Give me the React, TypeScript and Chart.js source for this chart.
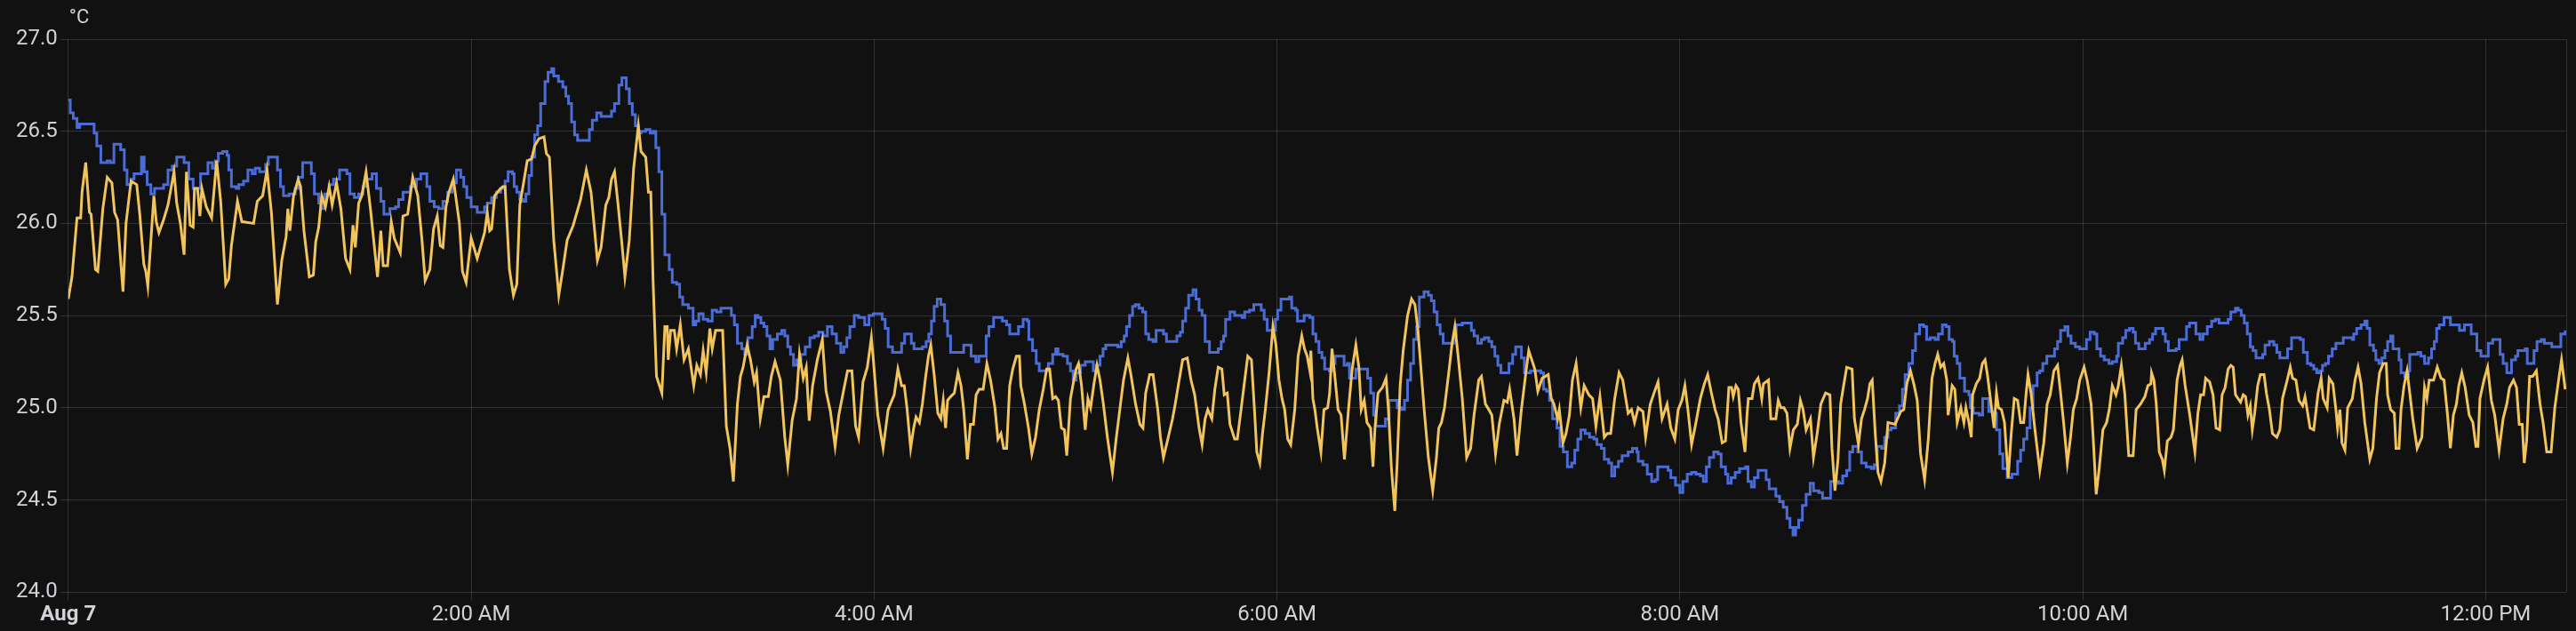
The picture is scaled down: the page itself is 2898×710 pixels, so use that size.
import { useEffect, useRef } from "react";
import { Chart, registerables } from "chart.js";

Chart.register(...registerables);

// time axis is minutes after midnight (Aug 7)
const tickMinutes: number[] = [0, 120, 240, 360, 480, 600, 720];
const tickLabels: string[] = ["Aug 7", "2:00 AM", "4:00 AM", "6:00 AM", "8:00 AM", "10:00 AM", "12:00 PM"];
const yTicks: number[] = [24.0, 24.5, 25.0, 25.5, 26.0, 26.5, 27.0];
const unitLabel = "°C";

// blue series: stepped sensor [minute, °C]
const blueSeries: [number, number][] = [
  [0, 26.67], [0.6, 26.6], [1.5, 26.57], [2.6, 26.52], [3.4, 26.54], [4.6, 26.54], [7.7, 26.49], [8.5, 26.42], [9.7, 26.33], [11.6, 26.34],
  [12.5, 26.33], [13.6, 26.43], [15.6, 26.4], [16.7, 26.29], [17.5, 26.21], [18.7, 26.24], [19.6, 26.27], [21.8, 26.36], [22.6, 26.28], [23.5, 26.21],
  [24.6, 26.16], [25.7, 26.19], [28.4, 26.21], [29.7, 26.29], [31.0, 26.31], [32.3, 26.36], [34.5, 26.33], [35.9, 26.24], [37.2, 26.19], [39.4, 26.27],
  [41.6, 26.33], [42.9, 26.3], [43.8, 26.34], [44.7, 26.38], [46.0, 26.39], [47.3, 26.37], [47.8, 26.29], [48.6, 26.2], [50.0, 26.19], [50.8, 26.21],
  [52.2, 26.23], [53.5, 26.29], [54.8, 26.27], [55.7, 26.3], [57.0, 26.28], [58.8, 26.32], [59.6, 26.36], [61.4, 26.36], [62.3, 26.29], [63.2, 26.2],
  [64.1, 26.15], [65.8, 26.16], [67.6, 26.19], [68.5, 26.25], [69.8, 26.33], [71.5, 26.33], [72.4, 26.27], [73.3, 26.16], [74.6, 26.11], [75.5, 26.08],
  [76.4, 26.16], [77.7, 26.21], [79.0, 26.24], [80.8, 26.29], [83.0, 26.27], [83.9, 26.16], [85.2, 26.14], [86.5, 26.16], [87.8, 26.2], [88.7, 26.24],
  [90.5, 26.27], [91.8, 26.19], [93.1, 26.12], [94.0, 26.05], [95.8, 26.08], [97.5, 26.09], [98.4, 26.13], [99.7, 26.17], [101.9, 26.2], [103.7, 26.24],
  [105.0, 26.27], [106.8, 26.2], [107.7, 26.12], [109.0, 26.09], [110.3, 26.08], [111.6, 26.12], [113.0, 26.17], [114.3, 26.22], [115.6, 26.29], [116.9, 26.25],
  [117.8, 26.2], [118.7, 26.14], [120.0, 26.09], [121.8, 26.06], [124.0, 26.09],
  [124.8, 26.11], [126.1, 26.14], [127.5, 26.17], [128.8, 26.19], [130.1, 26.23], [131.0, 26.28], [132.3, 26.27], [132.8, 26.2], [133.6, 26.17], [134.5, 26.13],
  [135.4, 26.12], [136.3, 26.16], [137.2, 26.26], [138.0, 26.36], [138.9, 26.48], [139.8, 26.53], [140.7, 26.65], [142.0, 26.77], [142.9, 26.82], [144.0, 26.84],
  [144.6, 26.8], [146.0, 26.77], [147.3, 26.74], [148.2, 26.69], [149.0, 26.65], [149.9, 26.55], [150.8, 26.48], [151.7, 26.45], [154.3, 26.45], [155.2, 26.51],
  [156.1, 26.56], [157.4, 26.6], [158.7, 26.58], [160.5, 26.58], [161.8, 26.61], [162.7, 26.65], [164.0, 26.75], [164.9, 26.79], [166.2, 26.73], [167.1, 26.65],
  [168.0, 26.59], [168.9, 26.53], [169.8, 26.49], [170.6, 26.5], [172.0, 26.51], [173.3, 26.49], [174.2, 26.5], [175.0, 26.41], [175.9, 26.28], [176.8, 26.05],
  [177.7, 25.83], [179.0, 25.75], [179.9, 25.68], [181.2, 25.67], [182.1, 25.6], [183.0, 25.56], [184.7, 25.54], [186.1, 25.45], [186.9, 25.47], [187.8, 25.51],
  [189.1, 25.48], [190.5, 25.47], [191.8, 25.53], [193.1, 25.52], [194.4, 25.54], [196.6, 25.54], [197.5, 25.5], [198.4, 25.45], [199.3, 25.35], [200.6, 25.32],
  [201.5, 25.29], [202.4, 25.38], [203.7, 25.44], [204.6, 25.5], [205.4, 25.49], [206.3, 25.46], [207.2, 25.44], [208.1, 25.39], [209.0, 25.32], [209.8, 25.37],
  [211.2, 25.4], [212.5, 25.42], [213.4, 25.39], [214.3, 25.33], [215.1, 25.29], [216.0, 25.23], [216.9, 25.26], [218.2, 25.29], [219.5, 25.33], [220.9, 25.38],
  [222.2, 25.39], [223.5, 25.41], [224.8, 25.39], [226.1, 25.44], [227.5, 25.4], [228.8, 25.35], [230.1, 25.3], [231.0, 25.33], [231.9, 25.38], [232.8, 25.44],
  [234.1, 25.5], [235.4, 25.49], [237.2, 25.45], [238.5, 25.5], [239.8, 25.51], [241.6, 25.51], [242.4, 25.48], [243.3, 25.43], [244.2, 25.33], [245.5, 25.3],
  [246.9, 25.3],
  [248.2, 25.35], [249.1, 25.4], [250.4, 25.4], [251.1, 25.35], [251.9, 25.32], [253.5, 25.32], [254.4, 25.33], [255.5, 25.36], [256.3, 25.4], [257.1, 25.47],
  [257.9, 25.55], [258.8, 25.59], [259.9, 25.56], [261.0, 25.47], [261.9, 25.39], [262.8, 25.3], [265.9, 25.3], [266.7, 25.34], [268.1, 25.34], [268.9, 25.28],
  [270.3, 25.25], [271.2, 25.28], [272.5, 25.28], [273.4, 25.39], [274.2, 25.44], [275.6, 25.49], [277.3, 25.49], [278.2, 25.47], [279.5, 25.45], [280.4, 25.4],
  [282.2, 25.4], [283.0, 25.44], [284.4, 25.48], [285.7, 25.47], [286.1, 25.37], [287.2, 25.31], [288.3, 25.24], [289.2, 25.2], [291.0, 25.2], [291.9, 25.24],
  [293.2, 25.29], [294.1, 25.32], [294.8, 25.29], [296.3, 25.28], [297.6, 25.24], [298.5, 25.2], [299.3, 25.15], [300.2, 25.19], [301.5, 25.23], [302.9, 25.25],
  [304.6, 25.25], [305.3, 25.2], [306.2, 25.23], [307.3, 25.28], [308.2, 25.32], [309.0, 25.34], [310.8, 25.34], [312.6, 25.33], [313.6, 25.36], [314.5, 25.39],
  [315.2, 25.44], [316.1, 25.5], [317.0, 25.55], [317.8, 25.56], [318.9, 25.54], [320.0, 25.52], [320.9, 25.4], [321.8, 25.37], [323.1, 25.36], [324.0, 25.42],
  [325.3, 25.42], [326.2, 25.4], [327.1, 25.36], [328.9, 25.36], [330.2, 25.39], [331.2, 25.41], [331.9, 25.47], [332.8, 25.54], [333.7, 25.61], [335.0, 25.64],
  [335.9, 25.59], [336.8, 25.53], [337.7, 25.5], [338.6, 25.36], [339.9, 25.3], [341.2, 25.3], [342.5, 25.32], [343.4, 25.36], [344.1, 25.39], [344.7, 25.48],
  [346.0, 25.52], [347.4, 25.5], [348.7, 25.5], [349.6, 25.49], [350.4, 25.52], [351.8, 25.53], [353.1, 25.56], [354.4, 25.56], [355.3, 25.53], [356.2, 25.48],
  [357.1, 25.42], [358.4, 25.42], [359.5, 25.48], [360.2, 25.53], [361.2, 25.59], [362.3, 25.59], [363.7, 25.6], [364.4, 25.54], [365.6, 25.53], [366.1, 25.47],
  [367.2, 25.47], [368.1, 25.5], [369.8, 25.49],
  [370.7, 25.4], [371.6, 25.36], [372.5, 25.3], [373.4, 25.27], [374.2, 25.21], [375.6, 25.2], [376.4, 25.24], [377.3, 25.28], [379.1, 25.28], [380.0, 25.23],
  [381.0, 25.24], [381.6, 25.16], [382.6, 25.16], [383.5, 25.21], [386.1, 25.21], [387.0, 25.16], [387.9, 25.08], [388.8, 24.96], [389.5, 24.9], [391.4, 24.9],
  [392.3, 24.94], [393.4, 25.04], [395.0, 25.04], [395.8, 25.0], [397.2, 24.99], [398.0, 25.04], [398.9, 25.15], [399.8, 25.24], [400.7, 25.37], [401.6, 25.44],
  [402.4, 25.6], [403.8, 25.63], [405.1, 25.61], [406.0, 25.58], [406.8, 25.52], [407.7, 25.45], [408.6, 25.4], [409.5, 25.35], [411.7, 25.35], [412.6, 25.39],
  [413.4, 25.45], [415.2, 25.46], [417.0, 25.46], [417.9, 25.42], [418.7, 25.39], [419.8, 25.35], [420.9, 25.37], [421.8, 25.38], [423.1, 25.36], [424.0, 25.33],
  [424.9, 25.28], [425.8, 25.23], [426.7, 25.19], [428.3, 25.19], [429.1, 25.24], [430.2, 25.29], [431.1, 25.33], [432.4, 25.33], [432.8, 25.27], [433.7, 25.19],
  [435.5, 25.2], [437.2, 25.2], [438.6, 25.19], [439.4, 25.1], [440.3, 25.09], [441.2, 25.04], [442.1, 24.94], [443.4, 24.89], [444.3, 24.79], [445.3, 24.76],
  [446.5, 24.68], [447.8, 24.7], [448.7, 24.77], [449.6, 24.83], [450.5, 24.88], [451.8, 24.86], [453.1, 24.84], [454.4, 24.83], [455.3, 24.8], [456.6, 24.78],
  [457.5, 24.72], [458.8, 24.7], [459.7, 24.63], [460.6, 24.68], [461.7, 24.71], [462.8, 24.74], [464.6, 24.76], [465.9, 24.78], [467.2, 24.76], [467.6, 24.71],
  [469.0, 24.69], [470.3, 24.64], [471.6, 24.6], [472.7, 24.61], [473.4, 24.68], [475.1, 24.68], [476.5, 24.66], [477.3, 24.62], [478.7, 24.58], [480.0, 24.54],
  [480.9, 24.6], [482.2, 24.64], [483.5, 24.65], [484.8, 24.64], [486.1, 24.63], [487.0, 24.6], [487.9, 24.68], [488.8, 24.73], [490.1, 24.76], [491.4, 24.75],
  [492.3, 24.68], [493.6, 24.64],
  [494.3, 24.59], [495.3, 24.62], [496.5, 24.65], [497.8, 24.67], [499.6, 24.68], [500.3, 24.6], [501.3, 24.57], [502.2, 24.62], [503.3, 24.66], [505.0, 24.66],
  [505.7, 24.61], [506.6, 24.56], [507.9, 24.56], [508.6, 24.52], [509.7, 24.49], [510.8, 24.46], [511.9, 24.4], [512.8, 24.35], [513.7, 24.31], [514.5, 24.35],
  [515.4, 24.39], [516.5, 24.47], [517.6, 24.53], [518.8, 24.59], [519.8, 24.55], [521.4, 24.54], [522.5, 24.51], [524.2, 24.51], [524.9, 24.6], [526.4, 24.6],
  [527.3, 24.59], [528.5, 24.63], [529.7, 24.66], [530.6, 24.76], [531.5, 24.79], [533.0, 24.76], [534.1, 24.7], [535.5, 24.68], [537.0, 24.67], [537.9, 24.69],
  [538.8, 24.79], [540.1, 24.78], [541.0, 24.84], [542.0, 24.88], [542.9, 24.89], [544.3, 24.97], [545.4, 25.01], [546.3, 25.1], [547.1, 25.18], [548.2, 25.24],
  [549.3, 25.31], [550.2, 25.4], [551.4, 25.45], [552.6, 25.44], [553.5, 25.37], [554.6, 25.38], [556.0, 25.37], [557.0, 25.4], [558.2, 25.45], [559.3, 25.44],
  [560.2, 25.37], [561.2, 25.36], [561.7, 25.28], [562.6, 25.24], [563.4, 25.16], [564.8, 25.09], [566.1, 25.07], [566.5, 25.0], [567.4, 24.97], [569.2, 24.96],
  [570.2, 25.05], [571.4, 25.05], [572.0, 24.98], [573.1, 24.97], [574.3, 24.88], [575.3, 24.75], [576.2, 24.67], [577.5, 24.62], [578.9, 24.64], [580.2, 24.64],
  [580.6, 24.71], [581.5, 24.77], [582.4, 24.83], [583.4, 24.89], [584.3, 25.0], [585.2, 25.12], [586.4, 25.19], [587.2, 25.2], [588.1, 25.24], [589.3, 25.28],
  [590.8, 25.28], [591.6, 25.32], [592.5, 25.36], [593.4, 25.42], [594.7, 25.44], [595.6, 25.39], [596.5, 25.35], [597.8, 25.33], [599.1, 25.32], [600.2, 25.32],
  [601.1, 25.37], [602.2, 25.41], [603.4, 25.4], [604.2, 25.32], [605.3, 25.28], [606.4, 25.26], [607.8, 25.24], [608.8, 25.25], [610.1, 25.28], [610.6, 25.35],
  [611.9, 25.38], [612.8, 25.42], [613.9, 25.43], [615.0, 25.41], [615.7, 25.35], [616.7, 25.32], [617.8, 25.32],
  [618.6, 25.35], [619.9, 25.37], [620.8, 25.4], [621.7, 25.43], [623.2, 25.43], [623.9, 25.4], [624.6, 25.36], [625.5, 25.31], [626.5, 25.31], [627.8, 25.32],
  [628.7, 25.37], [630.2, 25.37], [630.9, 25.44], [631.8, 25.46], [633.1, 25.46], [633.7, 25.4], [634.9, 25.37], [635.8, 25.4], [637.1, 25.44], [638.4, 25.47],
  [639.5, 25.48], [640.6, 25.46], [641.9, 25.46], [643.3, 25.48], [644.1, 25.52], [645.5, 25.54], [646.3, 25.53], [647.2, 25.5], [648.1, 25.46], [649.0, 25.4],
  [649.9, 25.33], [650.7, 25.31], [651.6, 25.27], [652.5, 25.27], [653.6, 25.29], [654.3, 25.34], [655.6, 25.36], [656.9, 25.34], [657.8, 25.3], [658.7, 25.27],
  [660.0, 25.27], [661.0, 25.32], [662.2, 25.38], [664.8, 25.37], [665.7, 25.3], [666.9, 25.24], [667.9, 25.23], [668.8, 25.21], [669.7, 25.19], [670.6, 25.2],
  [671.4, 25.23], [672.3, 25.24], [673.2, 25.28], [674.3, 25.32], [675.4, 25.35], [676.7, 25.35], [677.6, 25.38], [680.3, 25.37], [680.7, 25.4], [681.6, 25.43],
  [682.9, 25.45], [684.0, 25.47], [684.7, 25.43], [685.5, 25.34], [686.6, 25.31], [687.3, 25.26], [688.2, 25.24], [689.1, 25.27], [690.0, 25.31], [690.8, 25.36],
  [691.7, 25.39], [692.4, 25.32], [693.3, 25.32], [694.2, 25.26], [694.8, 25.19], [695.9, 25.17], [697.0, 25.2], [697.4, 25.29], [698.8, 25.29], [699.8, 25.3],
  [700.7, 25.28], [701.8, 25.24], [703.0, 25.27], [703.9, 25.32], [704.7, 25.36], [705.4, 25.43], [706.2, 25.45], [707.6, 25.49], [708.6, 25.49], [709.5, 25.45],
  [711.1, 25.45], [712.2, 25.42], [713.0, 25.42], [713.7, 25.45], [715.1, 25.45], [715.7, 25.4], [716.8, 25.4], [717.4, 25.31], [718.6, 25.28], [719.9, 25.28],
  [720.8, 25.35], [722.1, 25.37], [723.4, 25.37], [724.3, 25.29], [725.2, 25.24], [726.3, 25.19], [727.1, 25.19], [727.7, 25.26], [728.9, 25.28], [729.6, 25.31],
  [731.0, 25.31], [731.8, 25.32], [732.4, 25.24], [733.8, 25.24], [734.4, 25.31], [735.3, 25.36], [736.6, 25.37], [737.5, 25.35], [739.7, 25.33], [741.5, 25.33],
  [742.4, 25.4], [743.7, 25.42],
];

// yellow series: fast oscillating sensor [minute, °C]
const yellowSeries: [number, number][] = [
  [0, 25.59], [1.1, 25.71], [2.6, 26.03], [3.7, 26.03], [4.1, 26.17], [5.2, 26.33], [6.3, 26.06], [6.8, 26.05], [8.1, 25.75], [8.8, 25.74],
  [9.6, 25.92], [10.3, 26.08], [11.6, 26.25], [13.0, 26.22], [13.8, 26.06], [14.7, 26.02], [16.3, 25.63], [17.2, 26.0], [18.7, 26.23], [20.4, 26.21],
  [21.3, 26.05], [22.5, 25.78], [23.1, 25.74], [23.7, 25.66], [25.5, 26.15], [26.2, 26.01], [27.0, 25.95], [28.4, 26.02], [29.7, 26.1], [31.5, 26.28],
  [32.3, 26.11], [33.4, 26.0], [34.5, 25.83], [35.2, 26.28], [36.3, 25.99], [37.2, 25.98], [37.6, 26.19], [38.5, 26.19], [39.2, 26.04], [39.8, 26.19],
  [41.1, 26.09], [42.7, 26.03], [44.2, 26.34], [45.4, 26.12], [46.9, 25.67], [47.8, 25.7], [48.6, 25.88], [50.4, 26.12], [51.7, 26.01], [55.2, 26.0],
  [56.3, 26.12], [57.9, 26.15], [59.2, 26.29], [60.5, 26.06], [62.3, 25.56], [63.6, 25.8], [64.9, 25.93], [65.4, 26.08], [66.0, 25.96], [67.1, 26.15],
  [68.5, 26.24], [69.2, 26.2], [70.2, 25.96], [71.8, 25.71], [73.0, 25.72], [73.7, 25.9], [74.6, 25.98], [75.5, 26.15], [76.6, 26.09], [77.7, 26.2],
  [78.6, 26.1], [79.9, 26.22], [81.2, 26.08], [82.6, 25.81], [83.9, 25.75], [84.8, 25.99], [85.5, 25.87], [86.5, 26.11], [87.4, 26.15], [88.7, 26.28],
  [90.0, 26.08], [92.1, 25.71], [93.1, 25.96], [93.8, 25.77], [95.1, 25.77], [96.2, 26.01], [97.1, 25.92], [98.9, 25.84], [99.7, 26.04], [101.1, 26.05],
  [102.6, 26.25], [104.1, 26.15], [105.3, 25.92], [106.3, 25.69], [107.7, 25.75], [108.8, 25.97], [109.9, 26.04], [110.8, 25.88], [111.6, 25.87], [112.5, 26.09],
  [113.4, 26.17], [114.7, 26.24], [116.5, 26.0], [117.4, 25.74], [118.5, 25.68], [120.0, 25.92], [121.8, 25.81], [124.0, 25.95],
  [124.8, 26.06], [125.5, 25.96], [126.1, 25.97], [127.0, 26.15], [128.3, 26.18], [129.4, 26.2], [130.1, 26.2], [131.4, 25.75], [132.6, 25.61], [133.6, 25.67],
  [134.5, 26.1], [135.8, 26.24], [136.7, 26.34], [138.0, 26.35], [138.9, 26.42], [140.2, 26.46], [141.7, 26.47], [142.4, 26.38], [143.3, 26.36], [144.6, 25.91],
  [146.1, 25.61], [147.3, 25.75], [148.6, 25.91], [150.4, 25.99], [152.6, 26.13], [154.3, 26.29], [155.7, 26.17], [157.6, 25.8], [158.7, 25.87], [160.1, 26.1],
  [161.0, 26.14], [161.8, 26.24], [162.7, 26.28], [163.6, 26.13], [164.9, 25.89], [165.8, 25.71], [167.1, 25.91], [168.4, 26.3], [169.8, 26.53], [170.6, 26.39],
  [172.0, 26.36], [172.8, 26.17], [173.5, 26.17], [174.2, 25.68], [175.2, 25.17], [176.1, 25.12], [176.8, 25.08], [177.7, 25.44], [178.4, 25.44], [178.7, 25.26],
  [179.4, 25.42], [180.5, 25.42], [181.2, 25.32], [182.3, 25.45], [183.4, 25.26], [184.7, 25.32], [186.3, 25.12], [187.2, 25.23], [188.3, 25.18], [189.1, 25.31],
  [190.0, 25.19], [191.1, 25.43], [191.8, 25.32], [192.8, 25.42], [194.9, 25.42], [196.0, 24.9], [197.1, 24.78], [198.1, 24.6], [199.3, 25.02], [200.2, 25.17],
  [201.0, 25.22], [202.2, 25.34], [203.2, 25.26], [204.3, 25.14], [205.0, 25.19], [206.1, 24.94], [207.2, 25.06], [208.5, 25.06], [209.4, 25.17], [210.5, 25.25],
  [212.1, 25.15], [213.4, 24.84], [214.3, 24.69], [215.6, 24.93], [216.9, 25.05], [217.8, 25.29], [218.9, 25.16], [219.8, 25.22], [220.7, 24.93], [221.7, 25.12],
  [223.1, 25.26], [224.6, 25.37], [225.7, 25.09], [227.0, 24.98], [228.4, 24.79], [229.5, 24.96], [231.0, 25.1], [232.1, 25.2], [233.4, 25.2], [234.5, 24.9],
  [235.4, 24.84], [236.7, 25.14], [238.0, 25.22], [239.2, 25.38], [239.8, 25.26], [241.1, 24.96], [242.7, 24.78], [244.2, 24.99], [246.0, 25.07], [247.1, 25.21],
  [248.2, 25.12],
  [249.0, 25.12], [249.8, 25.0], [250.9, 24.78], [251.8, 24.89], [252.5, 24.95], [253.5, 24.92], [254.4, 25.02], [255.3, 25.16], [256.2, 25.28], [256.9, 25.34],
  [257.9, 25.18], [259.0, 24.97], [259.9, 24.94], [260.6, 25.04], [261.3, 24.89], [261.9, 25.04], [262.8, 25.06], [263.9, 25.08], [265.0, 25.19], [265.9, 25.12],
  [266.7, 24.99], [267.8, 24.72], [268.7, 24.91], [269.6, 24.91], [270.4, 25.07], [271.3, 25.1], [272.5, 25.1], [273.6, 25.24], [274.7, 25.15], [276.0, 25.0],
  [276.9, 24.83], [277.8, 24.86], [278.6, 24.78], [279.5, 24.78], [280.4, 25.12], [281.3, 25.21], [282.4, 25.28], [283.3, 25.28], [283.7, 25.12], [284.8, 25.02],
  [286.0, 24.89], [287.0, 24.75], [288.1, 24.84], [289.2, 24.99], [290.4, 25.1], [291.4, 25.21], [292.3, 25.21], [293.2, 25.05], [294.1, 25.06], [294.9, 25.04],
  [295.8, 24.89], [296.7, 24.88], [297.4, 24.74], [298.5, 25.05], [299.5, 25.15], [300.2, 25.21], [300.9, 25.24], [301.8, 25.12], [302.9, 24.88], [303.7, 25.05],
  [304.5, 25.0], [305.5, 25.13], [306.4, 25.23], [307.3, 25.15], [308.3, 25.02], [309.5, 24.84], [311.0, 24.65], [312.1, 24.83], [313.4, 25.02], [314.3, 25.15],
  [315.6, 25.27], [316.5, 25.18], [317.9, 25.02], [319.2, 24.91], [320.1, 24.89], [320.9, 25.08], [322.1, 25.18], [323.1, 25.18], [324.5, 24.99], [325.3, 24.84],
  [326.2, 24.73], [327.5, 24.83], [328.9, 24.94], [329.7, 25.02], [330.6, 25.12], [331.9, 25.26], [333.3, 25.27], [334.4, 25.15], [335.5, 25.07], [336.8, 24.89],
  [337.7, 24.8], [338.6, 24.94], [339.4, 24.99], [340.6, 24.94], [341.5, 25.1], [342.5, 25.22], [343.6, 25.21], [344.3, 25.07], [345.2, 25.08], [346.0, 24.91],
  [347.4, 24.83], [348.2, 24.83], [349.1, 24.96], [350.4, 25.15], [351.3, 25.28], [352.4, 25.26], [353.3, 24.99], [354.0, 24.76], [354.9, 24.7], [355.7, 24.86],
  [356.6, 25.0], [357.7, 25.2], [358.8, 25.44], [359.7, 25.34], [360.6, 25.15], [361.5, 25.05], [362.3, 24.99], [363.2, 24.83], [364.1, 24.8], [365.3, 24.99],
  [366.3, 25.28], [367.4, 25.39], [368.2, 25.32], [369.0, 25.28], [369.8, 25.2],
  [370.1, 25.31], [370.7, 25.05], [371.3, 24.99], [372.0, 24.89], [373.1, 24.76], [374.0, 24.99], [375.1, 25.0], [375.7, 25.08], [376.4, 25.32], [377.3, 25.16],
  [378.2, 24.99], [379.1, 24.96], [380.1, 24.72], [381.3, 24.99], [382.4, 25.21], [383.5, 25.34], [384.4, 25.22], [385.1, 24.99], [386.0, 25.04], [386.8, 24.92],
  [387.9, 24.89], [388.6, 24.68], [389.2, 24.89], [390.1, 25.08], [391.4, 25.11], [392.5, 25.16], [393.2, 24.99], [394.1, 24.67], [395.1, 24.44], [395.8, 24.7],
  [396.7, 25.12], [397.6, 25.31], [398.9, 25.5], [400.1, 25.59], [401.1, 25.56], [402.0, 25.42], [403.8, 25.0], [405.1, 24.73], [406.4, 24.55], [407.5, 24.73],
  [408.2, 24.89], [409.0, 24.92], [409.9, 25.0], [411.3, 25.21], [412.1, 25.34], [413.0, 25.44], [413.9, 25.29], [415.2, 25.05], [416.5, 24.73], [417.7, 24.78],
  [418.7, 24.96], [420.1, 25.15], [420.9, 25.17], [422.1, 25.02], [423.1, 24.99], [424.0, 24.96], [425.1, 24.75], [426.2, 24.91], [427.6, 25.04], [428.6, 25.03],
  [429.3, 25.1], [430.6, 24.94], [431.5, 24.74], [432.8, 24.99], [434.2, 25.2], [435.0, 25.31], [435.9, 25.26], [436.8, 25.21], [437.7, 25.09], [439.0, 25.16],
  [440.8, 25.18], [441.7, 25.05], [442.5, 25.02], [443.6, 24.94], [444.1, 24.99], [445.2, 24.81], [446.1, 24.86], [447.1, 24.96], [448.0, 25.15], [449.1, 25.24],
  [450.5, 25.0], [451.5, 25.12], [452.9, 25.07], [454.0, 25.05], [455.0, 24.9], [456.2, 25.06], [457.5, 24.84], [458.4, 24.86], [459.4, 24.86], [460.6, 25.05],
  [461.9, 25.19], [463.0, 25.15], [464.6, 24.97], [465.6, 24.99], [466.5, 24.92], [467.6, 25.0], [469.0, 24.98], [469.8, 24.84], [471.2, 25.02], [472.5, 25.09],
  [473.5, 25.14], [474.7, 24.94], [476.2, 25.02], [477.3, 24.89], [478.5, 24.83], [479.5, 24.99], [480.6, 25.04], [481.5, 25.12], [482.4, 24.99], [483.5, 24.8],
  [484.8, 24.92], [486.1, 25.05], [487.3, 25.13], [488.3, 25.18], [489.4, 25.08], [490.5, 24.99], [491.4, 24.94], [492.6, 24.81], [493.6, 24.82],
  [494.6, 25.11], [495.4, 25.11], [495.9, 25.06], [496.7, 25.12], [497.4, 25.1], [498.2, 24.92], [499.4, 24.76], [500.0, 24.96], [500.4, 25.05], [501.5, 25.05],
  [502.2, 25.13], [503.3, 25.16], [504.0, 25.1], [504.4, 25.05], [504.9, 25.13], [506.4, 25.15], [507.1, 24.94], [508.6, 24.94], [509.3, 25.04], [510.1, 25.0],
  [511.0, 25.0], [511.9, 24.97], [512.8, 24.78], [513.8, 24.88], [515.0, 24.91], [515.9, 25.04], [516.7, 24.99], [517.6, 24.88], [518.9, 24.94], [519.8, 24.73],
  [520.9, 24.86], [522.0, 25.02], [523.4, 25.08], [524.7, 25.07], [525.3, 24.78], [526.2, 24.55], [527.1, 24.72], [527.9, 25.02], [528.6, 25.1], [529.7, 25.22],
  [531.3, 25.21], [532.0, 24.94], [533.2, 24.8], [534.1, 24.94], [535.0, 24.99], [535.9, 25.05], [536.6, 25.13], [537.3, 25.15], [538.2, 24.86], [539.0, 24.65],
  [539.9, 24.6], [541.0, 24.7], [542.0, 24.92], [544.1, 24.91], [545.8, 24.98], [546.7, 24.99], [547.6, 25.13], [548.7, 25.2], [549.8, 25.12], [550.7, 25.04],
  [551.7, 24.75], [552.9, 24.61], [554.0, 24.83], [555.1, 25.16], [556.0, 25.24], [556.8, 25.29], [557.7, 25.22], [558.6, 25.24], [559.5, 25.15], [559.9, 24.96],
  [561.1, 25.12], [561.9, 25.1], [562.6, 24.92], [563.7, 25.0], [564.6, 24.92], [565.2, 25.0], [566.1, 24.92], [566.8, 24.84], [567.2, 25.07], [568.3, 25.13],
  [569.3, 25.16], [570.1, 25.24], [570.9, 25.26], [571.6, 25.18], [572.7, 25.02], [573.6, 24.89], [574.3, 25.08], [574.9, 25.0], [575.8, 24.99], [576.7, 24.92],
  [577.8, 24.62], [578.7, 24.86], [579.6, 25.05], [580.6, 25.04], [581.5, 24.92], [582.4, 24.92], [583.1, 25.07], [583.7, 25.18], [584.6, 25.08], [585.7, 24.89],
  [587.2, 24.66], [588.4, 24.81], [589.4, 25.02], [590.3, 25.07], [591.4, 25.2], [592.5, 25.23], [593.4, 25.08], [594.3, 24.92], [595.4, 24.7], [596.3, 24.83],
  [597.2, 24.99], [598.2, 25.05], [599.1, 25.15], [600.4, 25.22], [601.3, 25.15], [602.5, 25.02], [603.1, 24.84], [604.0, 24.53], [604.9, 24.67], [606.0, 24.88],
  [607.1, 24.92], [607.9, 24.99], [608.8, 25.12], [609.9, 25.07], [610.6, 25.12], [611.5, 25.23], [612.5, 25.08], [613.7, 24.74], [615.0, 24.74], [615.9, 24.99],
  [617.2, 25.02], [618.5, 25.06], [619.4, 25.12], [620.3, 25.13],
  [620.5, 25.19], [621.2, 25.15], [621.9, 25.02], [622.8, 24.76], [623.7, 24.72], [624.3, 24.66], [625.2, 24.82], [626.3, 24.84], [627.0, 24.88], [628.1, 25.15],
  [629.0, 25.23], [629.6, 25.26], [630.5, 25.12], [631.8, 24.97], [633.4, 24.76], [634.3, 24.97], [635.1, 25.07], [636.0, 25.07], [636.6, 25.16], [637.8, 25.14],
  [638.8, 25.07], [639.7, 24.89], [640.8, 24.88], [641.5, 25.07], [642.4, 25.11], [643.3, 25.21], [644.1, 25.23], [644.8, 25.22], [645.5, 25.07], [647.0, 25.03],
  [647.8, 25.07], [648.5, 25.06], [649.2, 24.96], [649.9, 25.01], [650.5, 24.88], [651.2, 24.97], [652.1, 25.12], [652.9, 25.18], [654.0, 25.18], [654.7, 25.08],
  [655.6, 24.99], [656.5, 24.86], [657.8, 24.84], [658.7, 24.88], [659.5, 25.05], [660.9, 25.15], [661.8, 25.22], [662.5, 25.16], [663.5, 25.15], [664.4, 25.04],
  [665.5, 25.01], [666.2, 25.06], [667.0, 24.97], [667.7, 24.89], [668.8, 24.88], [670.1, 25.08], [671.0, 25.16], [671.6, 25.05], [672.8, 25.0], [673.4, 25.16],
  [674.5, 25.13], [675.4, 24.99], [675.9, 24.89], [676.6, 24.99], [677.2, 24.81], [678.1, 24.77], [678.9, 25.0], [680.3, 25.05], [681.1, 25.15], [682.0, 25.22],
  [682.9, 25.13], [684.0, 24.92], [685.5, 24.72], [686.4, 24.78], [687.5, 25.05], [688.4, 25.19], [689.5, 25.24], [690.4, 25.24], [690.8, 25.07], [691.7, 24.99],
  [692.8, 24.97], [693.3, 24.78], [694.2, 24.78], [694.8, 24.99], [695.7, 25.12], [696.6, 25.2], [697.4, 25.08], [698.3, 24.94], [699.6, 24.78], [701.0, 24.84],
  [701.8, 25.11], [702.5, 25.05], [703.2, 25.15], [704.5, 25.15], [705.6, 25.22], [706.7, 25.16], [707.6, 25.15], [708.6, 24.97], [709.5, 24.78], [710.4, 24.96],
  [711.3, 25.02], [712.0, 25.12], [712.9, 25.19], [713.9, 25.11], [715.1, 24.96], [716.2, 24.92], [717.1, 24.79], [717.7, 24.79], [718.3, 25.05], [719.5, 25.15],
  [720.6, 25.22], [721.7, 25.04], [722.7, 24.96], [724.0, 24.77], [725.2, 24.94], [726.3, 25.02], [727.1, 25.11], [728.3, 25.15], [729.2, 25.11], [730.0, 24.91],
  [730.9, 24.91], [731.5, 24.7], [732.2, 24.82], [733.1, 25.17], [734.0, 25.17], [735.1, 25.2], [736.2, 25.02], [737.1, 24.92], [738.2, 24.76], [739.5, 24.76],
  [740.6, 25.0], [741.8, 25.16], [742.6, 25.26], [743.7, 25.1],
];

const BG = "#111111";
const GRID = "rgba(255, 255, 255, 0.14)";
const TEXT = "#d2d2d8";
const FONT = "Roboto, 'Noto Sans', sans-serif";

// unit label above the y axis and the right frame line
const panelDecor = {
  id: "panelDecor",
  afterDraw(chart: any) {
    const { ctx, chartArea } = chart;
    ctx.save();
    ctx.strokeStyle = GRID;
    ctx.lineWidth = 1;
    ctx.beginPath();
    ctx.moveTo(chartArea.right + 0.5, chartArea.top);
    ctx.lineTo(chartArea.right + 0.5, chartArea.bottom);
    ctx.stroke();
    ctx.fillStyle = TEXT;
    ctx.font = `22px ${FONT}`;
    ctx.textAlign = "left";
    ctx.textBaseline = "alphabetic";
    ctx.fillText(unitLabel, chartArea.left + 1, 26);
    ctx.restore();
  },
};

const TempChart: React.FC = () => {
  const canvasRef = useRef<HTMLCanvasElement | null>(null);

  useEffect(() => {
    const chart = new Chart(canvasRef.current!, {
      type: "line",
      data: {
        datasets: [
          {
            label: "Sensor B",
            data: yellowSeries.map(([x, y]) => ({ x, y })),
            borderColor: "#F2C55C",
            borderWidth: 3,
            pointRadius: 0,
            tension: 0,
          },
          {
            label: "Sensor A",
            data: blueSeries.map(([x, y]) => ({ x, y })),
            borderColor: "#4A6CD4",
            borderWidth: 3,
            pointRadius: 0,
            stepped: true,
          },
        ],
      },
      options: {
        animation: false,
        responsive: true,
        maintainAspectRatio: false,
        devicePixelRatio: 1,
        layout: { padding: { left: 15, right: 11, top: 44, bottom: 2 } },
        plugins: {
          legend: { display: false },
          tooltip: { enabled: false },
        },
        scales: {
          x: {
            type: "linear",
            min: 0,
            max: 744,
            afterBuildTicks: (axis: any) => {
              axis.ticks = tickMinutes.map((value) => ({ value }));
            },
            grid: { color: GRID, tickLength: 9, tickColor: GRID },
            border: { display: false },
            ticks: {
              autoSkip: false,
              maxRotation: 0,
              padding: 2,
              color: TEXT,
              font: (ctx: any) => ({
                family: FONT,
                size: 24,
                weight: ctx.index === 0 ? "bold" : "normal",
              }),
              callback: (value: any) => tickLabels[tickMinutes.indexOf(Number(value))] ?? "",
            },
          },
          y: {
            min: 24,
            max: 27,
            afterBuildTicks: (axis: any) => {
              axis.ticks = yTicks.map((value) => ({ value }));
            },
            grid: { color: GRID, tickLength: 9, tickColor: GRID },
            border: { display: false },
            ticks: {
              padding: 3,
              color: TEXT,
              font: { family: FONT, size: 24 },
              callback: (value: any) => Number(value).toFixed(1),
            },
          },
        },
      },
      plugins: [panelDecor],
    } as any);

    return () => {
      chart.destroy();
    };
  }, []);

  return (
    <div style={{ position: "fixed", left: 0, top: 0, width: 2898, height: 710, background: BG }}>
      <canvas ref={canvasRef} />
    </div>
  );
};

export default function App() {
  return <TempChart />;
}
